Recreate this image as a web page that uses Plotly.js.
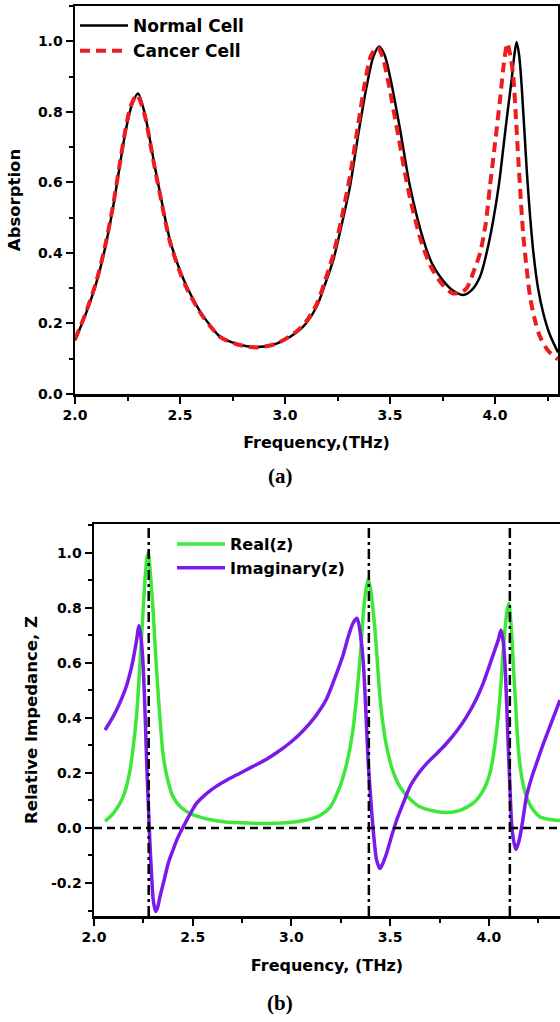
<!DOCTYPE html>
<html>
<head>
<meta charset="utf-8">
<script src="https://cdn.plot.ly/plotly-3.0.1.min.js"></script>
<style>html,body{margin:0;padding:0;background:#fff;}#chart{width:560px;height:1022px;}</style>
</head>
<body>
<div id="chart"></div>
<script>
// ---------- Panel (a): Absorption ----------
const freqNormal = [2.00,2.05,2.10,2.14,2.18,2.21,2.24,2.27,2.30,2.33,2.357,2.38,2.405,2.452,2.50,2.532,2.58,2.611,2.65,2.69,2.77,2.865,2.96,3.056,3.10,3.151,3.19,3.23,3.27,3.31,3.35,3.389,3.42,3.448,3.475,3.50,3.548,3.595,3.659,3.70,3.738,3.79,3.849,3.89,3.929,3.96,3.992,4.02,4.04,4.06,4.079,4.092,4.103,4.115,4.127,4.151,4.165,4.183,4.205,4.23,4.26,4.30];
const absNormal = [0.152,0.225,0.312,0.405,0.525,0.635,0.742,0.818,0.852,0.80,0.72,0.645,0.57,0.437,0.35,0.305,0.25,0.22,0.19,0.163,0.142,0.133,0.143,0.175,0.20,0.248,0.31,0.38,0.48,0.59,0.74,0.873,0.955,0.985,0.96,0.90,0.75,0.589,0.437,0.37,0.333,0.298,0.281,0.295,0.333,0.40,0.494,0.60,0.70,0.80,0.89,0.96,0.998,0.96,0.873,0.636,0.52,0.40,0.30,0.229,0.17,0.118];
const freqCancer = [2.00,2.05,2.10,2.14,2.18,2.21,2.24,2.265,2.295,2.33,2.357,2.38,2.405,2.452,2.50,2.532,2.58,2.611,2.65,2.69,2.77,2.865,2.96,3.056,3.10,3.151,3.19,3.23,3.27,3.31,3.35,3.38,3.41,3.44,3.465,3.49,3.54,3.59,3.65,3.70,3.75,3.80,3.84,3.865,3.90,3.929,3.955,3.976,4.00,4.024,4.045,4.059,4.073,4.087,4.10,4.111,4.135,4.15,4.167,4.19,4.214,4.25,4.294,4.30];
const absCancer = [0.155,0.228,0.316,0.41,0.53,0.64,0.748,0.815,0.848,0.795,0.715,0.64,0.565,0.432,0.345,0.30,0.247,0.218,0.188,0.162,0.141,0.132,0.143,0.178,0.205,0.255,0.32,0.395,0.50,0.62,0.77,0.88,0.96,0.983,0.955,0.89,0.73,0.57,0.43,0.355,0.31,0.285,0.29,0.30,0.35,0.40,0.48,0.589,0.71,0.835,0.95,0.994,0.96,0.90,0.78,0.665,0.447,0.36,0.276,0.21,0.163,0.125,0.101,0.099];

// ---------- Panel (b): Relative impedance ----------
const freqReal = [2.056,2.10,2.148,2.18,2.199,2.218,2.233,2.247,2.258,2.268,2.275,2.285,2.30,2.313,2.326,2.351,2.375,2.40,2.44,2.486,2.56,2.655,2.78,2.91,3.00,3.077,3.144,3.195,3.24,3.28,3.31,3.33,3.35,3.364,3.378,3.389,3.40,3.423,3.448,3.465,3.482,3.51,3.549,3.60,3.65,3.72,3.786,3.85,3.92,3.97,4.005,4.03,4.056,4.07,4.081,4.092,4.101,4.112,4.123,4.136,4.148,4.165,4.19,4.22,4.258,4.30,4.36];
const realZ = [0.025,0.055,0.114,0.20,0.296,0.43,0.60,0.77,0.90,0.98,1.00,0.93,0.78,0.62,0.477,0.26,0.17,0.114,0.075,0.053,0.035,0.023,0.018,0.017,0.021,0.029,0.045,0.075,0.14,0.235,0.35,0.477,0.64,0.78,0.87,0.904,0.87,0.72,0.477,0.37,0.296,0.215,0.15,0.105,0.077,0.062,0.056,0.063,0.09,0.135,0.199,0.30,0.477,0.62,0.72,0.79,0.817,0.74,0.60,0.44,0.296,0.19,0.114,0.07,0.041,0.032,0.027];
const freqImag = [2.056,2.085,2.115,2.14,2.166,2.185,2.199,2.215,2.228,2.24,2.25,2.259,2.267,2.276,2.284,2.293,2.30,2.312,2.322,2.334,2.355,2.376,2.40,2.419,2.44,2.461,2.49,2.52,2.57,2.621,2.68,2.739,2.80,2.874,2.93,2.99,3.04,3.094,3.144,3.178,3.229,3.26,3.288,3.312,3.333,3.35,3.364,3.377,3.389,3.402,3.414,3.431,3.448,3.465,3.482,3.507,3.533,3.566,3.60,3.64,3.685,3.735,3.786,3.84,3.887,3.93,3.971,4.00,4.03,4.05,4.061,4.072,4.081,4.09,4.098,4.107,4.115,4.126,4.137,4.147,4.157,4.172,4.19,4.215,4.241,4.275,4.309,4.36];
const imagZ = [0.356,0.39,0.43,0.47,0.52,0.57,0.615,0.68,0.735,0.68,0.575,0.41,0.235,0.07,-0.068,-0.19,-0.262,-0.304,-0.29,-0.25,-0.19,-0.128,-0.08,-0.044,-0.012,0.017,0.055,0.09,0.125,0.152,0.177,0.199,0.222,0.25,0.276,0.308,0.34,0.381,0.429,0.47,0.563,0.625,0.696,0.745,0.762,0.70,0.60,0.42,0.235,0.10,-0.007,-0.116,-0.147,-0.125,-0.092,-0.03,0.029,0.09,0.15,0.195,0.235,0.27,0.308,0.355,0.405,0.46,0.526,0.585,0.647,0.69,0.72,0.68,0.60,0.45,0.296,0.14,0.017,-0.05,-0.078,-0.06,-0.032,0.03,0.114,0.18,0.235,0.305,0.369,0.465];
const resonanceLines = [2.277, 3.392, 4.106];
const zeroLevel = 0;

const xTicksA = [2.0, 2.5, 3.0, 3.5, 4.0];
const yTicksA = [0.0, 0.2, 0.4, 0.6, 0.8, 1.0];
const xTicksB = [2.0, 2.5, 3.0, 3.5, 4.0];
const yTicksB = [-0.2, 0.0, 0.2, 0.4, 0.6, 0.8, 1.0];

const W = 560, H = 1022;
const HF = 'DejaVu Sans, Verdana, sans-serif';
const BOLD = 'bold';

const traces = [
  {x: freqNormal, y: absNormal, name: 'Normal Cell', type: 'scatter', mode: 'lines',
   line: {color: '#000000', width: 2.5, shape: 'spline', smoothing: 0.8}, xaxis: 'x', yaxis: 'y', legend: 'legend'},
  {x: freqCancer, y: absCancer, name: 'Cancer Cell', type: 'scatter', mode: 'lines',
   line: {color: '#ee1c1c', width: 4, dash: '10px,6px', shape: 'spline', smoothing: 0.8}, xaxis: 'x', yaxis: 'y', legend: 'legend'},
  {x: freqReal, y: realZ, name: 'Real(z)', type: 'scatter', mode: 'lines',
   line: {color: '#3de83a', width: 3.5, shape: 'spline', smoothing: 0.7}, xaxis: 'x2', yaxis: 'y2', legend: 'legend2'},
  {x: freqImag, y: imagZ, name: 'Imaginary(z)', type: 'scatter', mode: 'lines',
   line: {color: '#7b18ea', width: 3.5, shape: 'spline', smoothing: 0.7}, xaxis: 'x2', yaxis: 'y2', legend: 'legend2'}
];

const shapes = [];
resonanceLines.forEach(f => shapes.push({type: 'line', xref: 'x2', yref: 'y2 domain', x0: f, x1: f, y0: 0, y1: 1,
  line: {color: '#000', width: 2.5, dash: '10px,4px,3px,4px'}, layer: 'above'}));
shapes.push({type: 'line', xref: 'x2 domain', yref: 'y2', x0: 0, x1: 1, y0: zeroLevel, y1: zeroLevel,
  line: {color: '#000', width: 2.5, dash: '8px,5px'}, layer: 'above'});

function xAxis(domain, range, ticks, titleText, anchor, standoff, tfs, mirror) {
  return {domain: domain, range: range, anchor: anchor, tickvals: ticks, ticktext: ticks.map(v => v.toFixed(1)),
    ticks: 'outside', ticklen: 7, tickwidth: 2, tickcolor: '#000', linecolor: '#000', linewidth: 2.5,
    mirror: mirror, showgrid: false, zeroline: false,
    minor: {ticks: 'outside', ticklen: 4, tickwidth: 2, tickcolor: '#000', dtick: 0.25, tick0: 2.0, showgrid: false},
    tickfont: {family: HF, size: tfs, weight: BOLD, color: '#000'},
    title: {text: titleText, font: {family: HF, size: 16, weight: BOLD, color: '#000'}, standoff: standoff}};
}
function yAxis(domain, range, ticks, titleText, anchor, standoff, tfs, mirror) {
  return {domain: domain, range: range, anchor: anchor, tickvals: ticks, ticktext: ticks.map(v => v.toFixed(1)),
    ticks: 'outside', ticklen: 7, tickwidth: 2, tickcolor: '#000', linecolor: '#000', linewidth: 2.5,
    mirror: mirror, showgrid: false, zeroline: false,
    minor: {ticks: 'outside', ticklen: 4, tickwidth: 2, tickcolor: '#000', dtick: 0.1, tick0: 0, showgrid: false},
    tickfont: {family: HF, size: tfs, weight: BOLD, color: '#000'},
    title: {text: titleText, font: {family: HF, size: 16.5, weight: BOLD, color: '#000'}, standoff: standoff}};
}

const layout = {
  width: W, height: H,
  margin: {l: 0, r: 0, t: 0, b: 0},
  paper_bgcolor: '#ffffff', plot_bgcolor: '#ffffff',
  showlegend: true,
  xaxis: xAxis([75/W, 558/W], [2.0, 4.3], xTicksA, 'Frequency,(THz)', 'y', 15, 14, true),
  yaxis: yAxis([1 - 394/H, 1 - 6/H], [0, 1.1], yTicksA, 'Absorption', 'x', 13, 14, true),
  xaxis2: xAxis([94/W, 1], [2.0, 4.36], xTicksB, 'Frequency, (THz)', 'y2', 16, 14, true),
  yaxis2: yAxis([1 - 916/H, 1 - 524/H], [-0.32, 1.105], yTicksB, 'Relative Impedance, Z', 'x2', 10, 14, false),
  legend: {x: 75/W, y: 1 - 8/H, xanchor: 'left', yanchor: 'top', bgcolor: 'rgba(0,0,0,0)', borderwidth: 0,
    font: {family: HF, size: 17, weight: BOLD, color: '#000'}, itemwidth: 48, tracegroupgap: 0},
  legend2: {x: 172/W, y: 1 - 527/H, xanchor: 'left', yanchor: 'top', bgcolor: 'rgba(0,0,0,0)', borderwidth: 0,
    font: {family: HF, size: 16, weight: BOLD, color: '#000'}, itemwidth: 48, tracegroupgap: 0},
  shapes: shapes,
  annotations: [
    {text: '(a)', xref: 'paper', yref: 'paper', x: 280/W, y: 1 - 476/H, xanchor: 'center', yanchor: 'middle', showarrow: false,
     font: {family: 'Liberation Serif, Times New Roman, serif', size: 21, weight: BOLD, color: '#000'}},
    {text: '(b)', xref: 'paper', yref: 'paper', x: 280/W, y: 1 - 1003/H, xanchor: 'center', yanchor: 'middle', showarrow: false,
     font: {family: 'Liberation Serif, Times New Roman, serif', size: 21, weight: BOLD, color: '#000'}}
  ]
};

Plotly.newPlot('chart', traces, layout, {staticPlot: true, displayModeBar: false});
</script>
</body>
</html>
